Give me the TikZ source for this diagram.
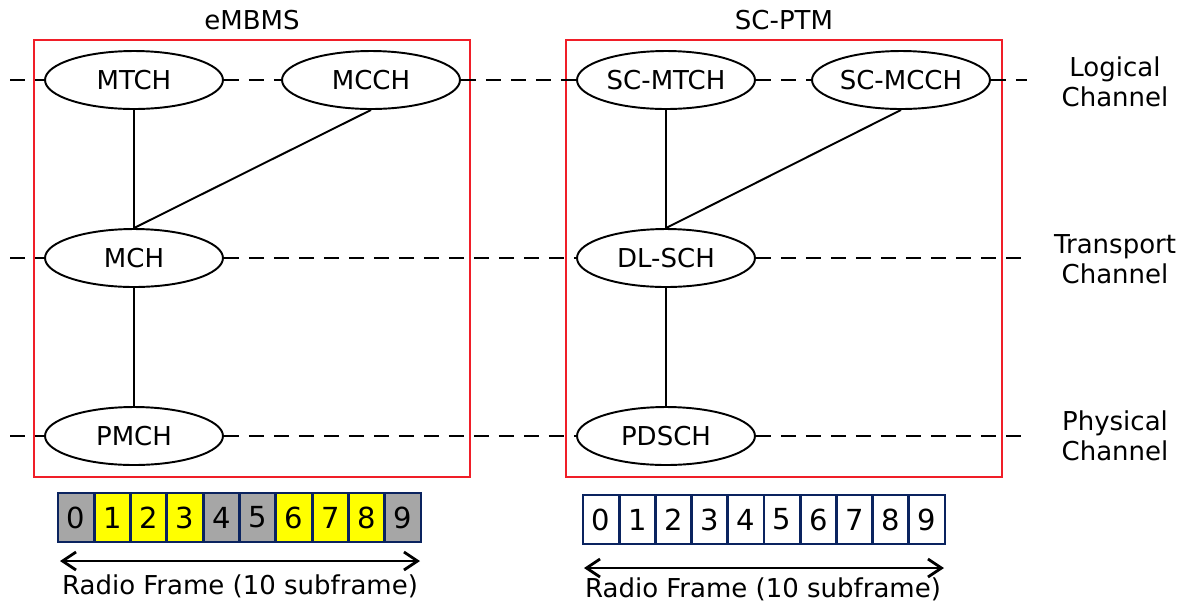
\documentclass[tikz,border=0pt]{standalone}
\usepackage{fontspec}
\setmainfont{DejaVu Sans}
\usetikzlibrary{arrows.meta, positioning, shapes.geometric}
\definecolor{boxred}{RGB}{240,30,40}
\definecolor{cellblue}{RGB}{10,35,95}
\definecolor{cellgray}{RGB}{166,166,166}
\definecolor{cellyellow}{RGB}{255,255,0}

\begin{document}
\begin{tikzpicture}[
  x=0.02cm, y=-0.02cm,
  chan/.style={ellipse, draw, line width=1.1pt, minimum width=3.56cm, minimum height=1.16cm, inner sep=0pt, fill=white, font=\fontsize{14.8}{17}\selectfont},
  areabox/.style={rectangle, draw=boxred, line width=0.9pt, minimum width=8.72cm, minimum height=8.74cm, inner sep=0pt},
  areatitle/.style={font=\fontsize{14.8}{17}\selectfont},
  layer/.style={align=center, font=\fontsize{14.8}{17}\selectfont},
  cell/.style={rectangle, draw=cellblue, line width=1.6pt, minimum width=0.726cm, minimum height=0.98cm, inner sep=0pt, font=\fontsize{16.5}{18}\selectfont},
  link/.style={line width=1.1pt},
  level/.style={line width=1.1pt, dash pattern=on 0.31cm off 0.19cm},
  span/.style={{Straight Barb[length=2.7mm, width=3.6mm]}-{Straight Barb[length=2.7mm, width=3.6mm]}, line width=1.6pt}
]
  \useasboundingbox (0,0) rectangle (1187,603);

  % areas
  \node[areabox] (embms) at (252,258.5) {};
  \node[areabox] (scptm) at (784,258.5) {};
  \node[areatitle] (embmst) at (252,20) {eMBMS};
  \node[areatitle] (scptmt) at (784,20) {SC-PTM};

  % channels
  \node[chan] (mtch) at (134,80) {MTCH};
  \node[chan] (mcch) at (371,80) {MCCH};
  \node[chan] (mch) at (134,258) {MCH};
  \node[chan] (pmch) at (134,436) {PMCH};
  \node[chan] (scmtch) at (666,80) {SC-MTCH};
  \node[chan] (scmcch) at (901,80) {SC-MCCH};
  \node[chan] (dlsch) at (666,258) {DL-SCH};
  \node[chan] (pdsch) at (666,436) {PDSCH};

  \node[layer] (logical) at (1115,82) {Logical\\Channel};
  \node[layer] (transport) at (1115,259) {Transport\\Channel};
  \node[layer] (physical) at (1115,436) {Physical\\Channel};

  \coordinate (la) at (10,80);
  \coordinate (lb) at (1027,80);
  \coordinate (ta) at (10,258);
  \coordinate (tb) at (1027,258);
  \coordinate (pa) at (10,436);
  \coordinate (pb) at (1027,436);

  % layer lines
  \draw[level] (la) -- (mtch.west);
  \draw[level] (mtch.east) -- (mcch.west);
  \draw[level] (mcch.east) -- (scmtch.west);
  \draw[level] (scmtch.east) -- (scmcch.west);
  \draw[level] (scmcch.east) -- (lb);
  \draw[level] (ta) -- (mch.west);
  \draw[level] (mch.east) -- (dlsch.west);
  \draw[level] (dlsch.east) -- (tb);
  \draw[level] (pa) -- (pmch.west);
  \draw[level] (pmch.east) -- (pdsch.west);
  \draw[level] (pdsch.east) -- (pb);

  % mappings
  \draw[link] (mtch) -- (mch);
  \draw[link] (mcch.south) -- (mch.north);
  \draw[link] (mch) -- (pmch);
  \draw[link] (scmtch) -- (dlsch);
  \draw[link] (scmcch.south) -- (dlsch.north);
  \draw[link] (dlsch) -- (pdsch);

  % radio frames
  \foreach \i/\c in {0/cellgray, 1/cellyellow, 2/cellyellow, 3/cellyellow, 4/cellgray,
                     5/cellgray, 6/cellyellow, 7/cellyellow, 8/cellyellow, 9/cellgray}
    \node[cell, fill=\c] (mb\i) at ({76.15+36.3*\i},517.5) {\i};
  \foreach \i in {0,...,9}
    \node[cell, fill=white] (sc\i) at ({601.1+36.2*\i},519.5) {\i};

  \coordinate (mbl) at (60,561);
  \coordinate (mbr) at (420,561);
  \coordinate (scl) at (584,568);
  \coordinate (scr) at (944,568);
  \draw[span] (mbl) -- (mbr);
  \draw[span] (scl) -- (scr);
  \node[areatitle] (mbrf) at (240,586) {Radio Frame (10 subframe)};
  \node[areatitle] (scrf) at (763,589) {Radio Frame (10 subframe)};
\end{tikzpicture}
\end{document}
